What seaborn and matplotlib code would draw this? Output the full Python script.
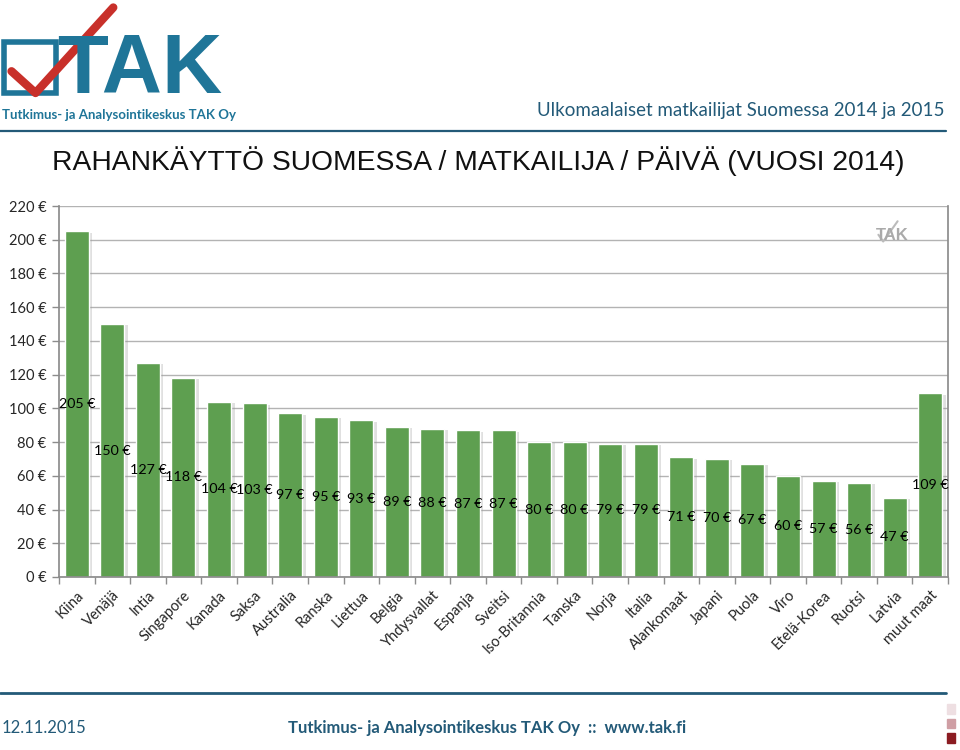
import seaborn as sns
import pandas as pd
import matplotlib.pyplot as plt
import matplotlib.patheffects as pe
from matplotlib.ticker import MultipleLocator, FixedLocator
from matplotlib.patches import Rectangle

countries = ['Kiina', 'Venäjä', 'Intia', 'Singapore', 'Kanada', 'Saksa', 'Australia',
             'Ranska', 'Liettua', 'Belgia', 'Yhdysvallat', 'Espanja', 'Sveitsi',
             'Iso-Britannia', 'Tanska', 'Norja', 'Italia', 'Alankomaat', 'Japani',
             'Puola', 'Viro', 'Etelä-Korea', 'Ruotsi', 'Latvia', 'muut maat']
spend = [205, 150, 127, 118, 104, 103, 97, 95, 93, 89, 88, 87, 87,
         80, 80, 79, 79, 71, 70, 67, 60, 57, 56, 47, 109]
y_ticks = list(range(0, 221, 20))

title = 'RAHANKÄYTTÖ SUOMESSA / MATKAILIJA / PÄIVÄ (VUOSI 2014)'
header = 'Ulkomaalaiset matkailijat Suomessa 2014 ja 2015'
footer_date = '12.11.2015'
footer_org = 'Tutkimus- ja Analysointikeskus TAK Oy  ::  www.tak.fi'

sns.set_theme(style='white')
plt.rcParams['font.family'] = ['Lato', 'DejaVu Sans']

teal = '#1f7598'
dark_teal = '#235a78'
bar_green = '#5e9f50'

df = pd.DataFrame({'maa': countries, 'euro': spend})

fig = plt.figure(figsize=(9.6, 7.5), dpi=100)
ax = fig.add_axes([0.0615, 0.2307, 0.926, 0.4946])

sns.barplot(data=df, x='maa', y='euro', color=bar_green, saturation=1, width=0.675, ax=ax)
for p in ax.patches:
    p.set_path_effects([pe.SimplePatchShadow(offset=(2.5, -1), shadow_rgbFace='#999999', alpha=0.3),
                        pe.Normal()])
ax.bar_label(ax.containers[0], labels=[f'{v} €' for v in spend], label_type='center',
             fontsize=10.3, color='black')

ax.set_ylim(0, 220)
ax.set_xlim(-0.5, len(countries) - 0.5)
ax.yaxis.set_major_locator(FixedLocator(y_ticks))
ax.set_yticks(y_ticks)
ax.set_yticklabels([f'{v} €' for v in y_ticks], fontsize=10.5)
ax.yaxis.grid(True, color='#b3b3b3', linewidth=1)
ax.set_axisbelow(True)

ax.set_xticks(range(len(countries)))
ax.set_xticklabels(countries, rotation=45, ha='right', rotation_mode='anchor', fontsize=10.5)
ax.xaxis.set_minor_locator(MultipleLocator(1, offset=0.5))
ax.tick_params(axis='x', which='major', length=0, pad=8)
ax.tick_params(axis='x', which='minor', length=5, color='#8c8c8c', width=1, direction='out', bottom=True)
ax.tick_params(axis='y', length=5, color='#8c8c8c', width=1, direction='out', left=True, pad=4)
ax.set_xlabel('')
ax.set_ylabel('')
for s in ['left', 'bottom', 'right']:
    ax.spines[s].set_color('#8c8c8c')
ax.spines['top'].set_visible(False)

# title and header texts
fig.text(0.054, 0.785, title, fontsize=20.3, color='#111111', va='center',
         family=['Liberation Sans', 'DejaVu Sans'])
fig.text(0.984, 0.853, header, fontsize=13.5, color=dark_teal, ha='right', va='center')
fig.add_artist(plt.Line2D([0.0, 0.985], [0.825, 0.825], color=dark_teal, linewidth=1.6))

# logo
fig.add_artist(Rectangle((0.004, 0.876), 0.054, 0.068, fill=False, edgecolor=teal, linewidth=4))
fig.text(0.06, 0.905, 'TAK', fontsize=60, fontweight='black', color=teal, va='center',
         family=['Liberation Sans', 'DejaVu Sans'])
fig.add_artist(plt.Line2D([0.012, 0.037, 0.118], [0.905, 0.876, 0.99], color='#c8302a',
                          linewidth=6, solid_capstyle='round', solid_joinstyle='round'))
fig.text(0.002, 0.847, 'Tutkimus- ja Analysointikeskus TAK Oy', fontsize=9.5,
         fontweight='bold', color=teal, va='center')

# watermark logo
fig.text(0.912, 0.686, 'TAK', fontsize=12, fontweight='bold', color='#aaaaaa', va='center',
         family=['Liberation Sans', 'DejaVu Sans'])
fig.add_artist(plt.Line2D([0.915, 0.92, 0.935], [0.687, 0.678, 0.705], color='#bbbbbb', linewidth=1.5))

# footer
fig.add_artist(plt.Line2D([0.0, 0.985], [0.076, 0.076], color=dark_teal, linewidth=2))
fig.text(0.002, 0.029, footer_date, fontsize=12, color=dark_teal, va='center')
fig.text(0.3, 0.029, footer_org, fontsize=12, fontweight='bold', color=dark_teal, va='center')
for yy, col in zip([0.048, 0.029, 0.010], ['#eedfe2', '#cf9ea4', '#8b1c22']):
    fig.add_artist(Rectangle((0.986, yy), 0.009, 0.013, color=col))

fig.savefig('out.png', dpi=100)
